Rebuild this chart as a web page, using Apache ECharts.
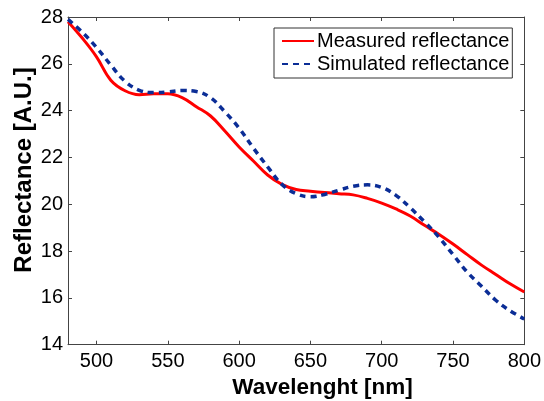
<!DOCTYPE html>
<html>
<head>
<meta charset="utf-8">
<script src="https://cdn.jsdelivr.net/npm/echarts@6/dist/echarts.min.js"></script>
<style>
html,body{margin:0;padding:0;background:#fff;}
#c{width:544px;height:401px;}
</style>
</head>
<body>
<div id="c"></div>
<script>
const wavelengths = [480,490,500,510,520,530,540,550,560,570,580,590,600,610,620,630,640,650,660,670,680,690,700,710,720,730,740,750,760,770,780,790,800];
const measured = [27.8,27.1,26.3,25.3,24.85,24.68,24.72,24.72,24.56,24.17,23.77,23.13,22.45,21.85,21.25,20.85,20.63,20.56,20.5,20.45,20.4,20.25,20.05,19.8,19.5,19.1,18.72,18.3,17.85,17.4,17.0,16.6,16.25];
const simulated = [27.9,27.35,26.7,25.95,25.25,24.87,24.77,24.8,24.86,24.82,24.55,23.95,23.25,22.4,21.6,20.85,20.45,20.32,20.42,20.6,20.77,20.83,20.72,20.38,19.85,19.25,18.6,17.85,17.1,16.5,15.9,15.45,15.1];
const xTicks = [500,550,600,650,700,750,800];
const yTicks = [14,16,18,20,22,24,26,28];
const seriesNames = ['Measured reflectance','Simulated reflectance'];
const xTitle = 'Wavelenght [nm]';
const yTitle = 'Reflectance [A.U.]';

const font = "'Liberation Sans', Arial, sans-serif";
const chart = echarts.init(document.getElementById('c'), null, {renderer:'canvas'});
const axisLine = {show:true, lineStyle:{color:'#444', width:1}};
const pair = arr => wavelengths.map((w,i)=>[w,arr[i]]);
chart.setOption({
  animation:false,
  backgroundColor:'#fff',
  grid:{left:68, right:13.5, top:17, bottom:56.3, containLabel:false},
  xAxis:[{
    type:'value', min:480, max:800, position:'bottom',
    axisLine:axisLine,
    axisTick:{show:true, inside:true, length:4, lineStyle:{color:'#444'}, customValues:xTicks},
    axisLabel:{show:true, customValues:xTicks, color:'#000', fontSize:20, fontFamily:font, margin:7},
    splitLine:{show:false}
  },{
    type:'value', min:480, max:800, position:'top',
    axisLine:axisLine,
    axisTick:{show:true, inside:true, length:4, lineStyle:{color:'#444'}, customValues:xTicks},
    axisLabel:{show:false, customValues:xTicks},
    splitLine:{show:false}
  }],
  yAxis:[{
    type:'value', min:14, max:28, interval:2, position:'left',
    axisLine:axisLine,
    axisTick:{show:true, inside:true, length:4, lineStyle:{color:'#444'}},
    axisLabel:{show:true, color:'#000', fontSize:20, fontFamily:font, margin:5},
    splitLine:{show:false}
  },{
    type:'value', min:14, max:28, interval:2, position:'right',
    axisLine:axisLine,
    axisTick:{show:true, inside:true, length:4, lineStyle:{color:'#444'}},
    axisLabel:{show:false},
    splitLine:{show:false}
  }],
  legend:{
    left:274, top:28, orient:'vertical',
    backgroundColor:'#fff', borderColor:'#333', borderWidth:1, borderRadius:0,
    padding:[3,3,4,7], itemGap:3, itemWidth:32, itemHeight:20,
    itemStyle:{opacity:0},
    textStyle:{color:'#000', fontSize:20, fontFamily:font, padding:[0,0,0,-2]},
    data:seriesNames
  },
  graphic:[
    {type:'text', x:322.5, y:388, style:{text:xTitle, fontSize:22.5, fontWeight:'bold', fontFamily:font, fill:'#000', align:'center', verticalAlign:'middle'}},
    {type:'text', x:24, y:170, rotation:Math.PI/2, style:{text:yTitle, fontSize:24, fontWeight:'bold', fontFamily:font, fill:'#000', align:'center', verticalAlign:'middle'}}
  ],
  series:[{
    name:seriesNames[0], type:'line', xAxisIndex:0, yAxisIndex:0,
    data:pair(measured), symbol:'none', smooth:0.4,
    lineStyle:{color:'#ff0000', width:3}, itemStyle:{color:'#ff0000'}
  },{
    name:seriesNames[1], type:'line', xAxisIndex:0, yAxisIndex:0,
    data:pair(simulated), symbol:'none', smooth:0.4,
    lineStyle:{color:'#0b2d96', width:3.5, type:[6,5]}, itemStyle:{color:'#0b2d96'}
  }]
});
</script>
</body>
</html>
